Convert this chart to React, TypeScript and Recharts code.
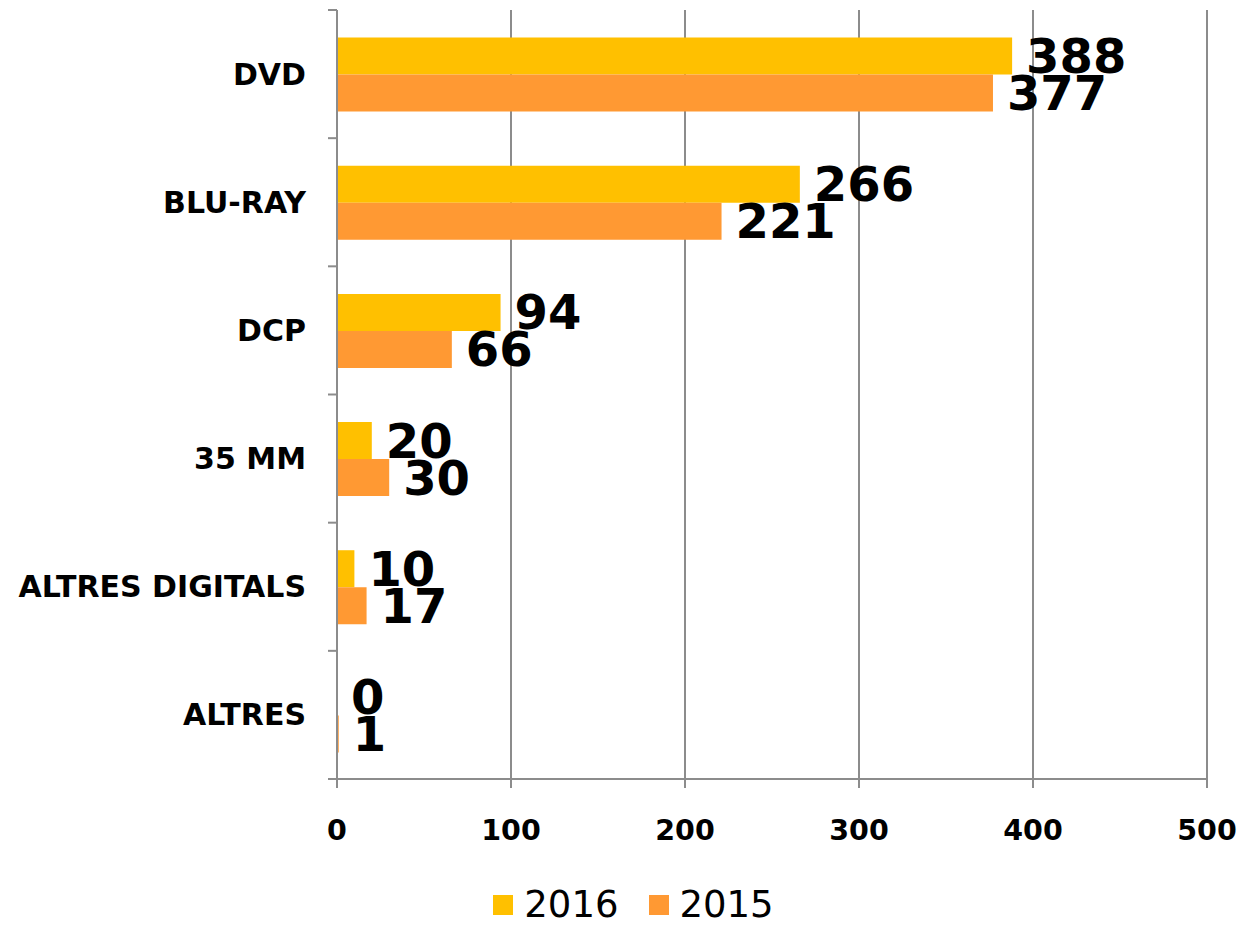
import React from 'react';
import { BarChart, Bar, XAxis, YAxis, CartesianGrid, Legend, LabelList } from 'recharts';

const categories = ['DVD', 'BLU-RAY', 'DCP', '35 MM', 'ALTRES DIGITALS', 'ALTRES'];
const values2016 = [388, 266, 94, 20, 10, 0];
const values2015 = [377, 221, 66, 30, 17, 1];
const xTicks = [0, 100, 200, 300, 400, 500];

const data = categories.map((name, i) => ({ name, y2016: values2016[i], y2015: values2015[i] }));

const W = 1239;
const H = 926;
const MARGIN = { top: 10, right: 32, left: 0, bottom: 0 };
const YAXIS_W = 337;
const XAXIS_H = 75;
const LEGEND_H = 72;
const PLOT_H = H - MARGIN.top - XAXIS_H - LEGEND_H;
const HALF_BAND = PLOT_H / categories.length / 2;
const FONT = '"DejaVu Sans", Verdana, sans-serif';
const GRID = '#8c8c8c';

const YTick = (props: any) => {
  const { x, y, payload, index } = props;
  const axisX = YAXIS_W;
  return (
    <g>
      <line x1={axisX - 9} x2={axisX} y1={y - HALF_BAND} y2={y - HALF_BAND} stroke={GRID} strokeWidth={2} />
      {index === categories.length - 1 && (
        <line x1={axisX - 9} x2={axisX} y1={y + HALF_BAND} y2={y + HALF_BAND} stroke={GRID} strokeWidth={2} />
      )}
      <text x={x} y={y} textAnchor="end" dominantBaseline="central" fontFamily={FONT} fontWeight="bold" fontSize={30} fill="#000">
        {payload.value}
      </text>
    </g>
  );
};

const LegendContent = () => (
  <div style={{ height: LEGEND_H, display: 'flex', justifyContent: 'center', alignItems: 'flex-end', fontFamily: FONT, fontSize: 37, color: '#000', paddingLeft: 60, paddingBottom: 0, boxSizing: 'border-box' }}>
    {[
      { label: '2016', color: '#FFC000' },
      { label: '2015', color: '#FF9933' },
    ].map((it) => (
      <div key={it.label} style={{ display: 'flex', alignItems: 'center', margin: '0 15px', lineHeight: '42px' }}>
        <span style={{ width: 20, height: 20, background: it.color, display: 'inline-block', marginRight: 11 }} />
        <span>{it.label}</span>
      </div>
    ))}
  </div>
);

const labelStyle = { fill: '#000', fontFamily: FONT, fontWeight: 'bold', fontSize: 48 } as const;

export default function App() {
  return (
    <div style={{ position: 'absolute', left: 0, top: 0, width: W, height: H, background: '#fff' }}>
      <BarChart width={W} height={H} data={data} layout="vertical" margin={MARGIN} barCategoryGap="21.5%" barGap={0}>
        <CartesianGrid horizontal={false} stroke={GRID} strokeWidth={2} />
        <XAxis
          type="number"
          domain={[0, 500]}
          ticks={xTicks}
          height={XAXIS_H}
          stroke={GRID}
          strokeWidth={2}
          tickSize={9}
          tickMargin={32}
          tick={{ fill: '#000', fontFamily: FONT, fontWeight: 'bold', fontSize: 28.5 }}
        />
        <YAxis
          type="category"
          dataKey="name"
          width={YAXIS_W}
          stroke={GRID}
          strokeWidth={2}
          tickLine={false}
          tickSize={0}
          tickMargin={31}
          tick={<YTick />}
        />
        <Legend verticalAlign="bottom" content={<LegendContent />} />
        <Bar dataKey="y2016" name="2016" fill="#FFC000" minPointSize={0.01} isAnimationActive={false}>
          <LabelList dataKey="y2016" position="right" offset={14} {...labelStyle} />
        </Bar>
        <Bar dataKey="y2015" name="2015" fill="#FF9933" isAnimationActive={false}>
          <LabelList dataKey="y2015" position="right" offset={14} {...labelStyle} />
        </Bar>
      </BarChart>
    </div>
  );
}
